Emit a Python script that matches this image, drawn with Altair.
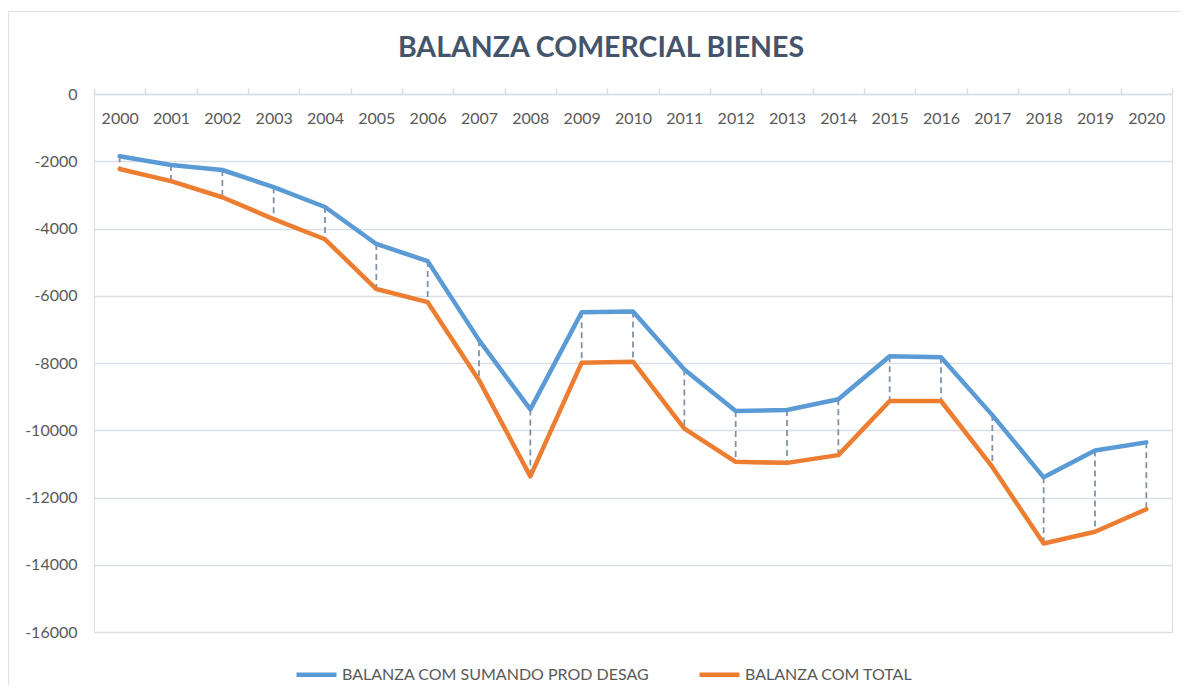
import altair as alt
import pandas as pd

years = [str(y) for y in range(2000, 2021)]
blue_vals = [-1850, -2110, -2260, -2770, -3360, -4460, -4970, -7320, -9380, -6490, -6470,
             -8190, -9430, -9400, -9080, -7800, -7830, -9550, -11400, -10600, -10360]
orange_vals = [-2230, -2590, -3070, -3720, -4320, -5800, -6190, -8510, -11370, -7990, -7960,
               -9950, -10940, -10970, -10740, -9130, -9130, -11090, -13370, -13020, -12350]
series_names = ["BALANZA COM SUMANDO PROD DESAG", "BALANZA COM TOTAL"]
series_colors = ["#5b9bd5", "#ed7d31"]
y_ticks = list(range(-16000, 1, 2000))

df = pd.DataFrame({"year": years, "s1": blue_vals, "s2": orange_vals})

W, H = 1078, 538
FONT = "Lato"
GRID = "#dadfe6"
LABEL = "#595959"

xscale = alt.Scale(type="band", paddingInner=0, paddingOuter=0)
yscale = alt.Scale(domain=[-16000, 0], nice=False, zero=False)

base = alt.Chart(df)

x_enc = alt.X(
    "year:N", scale=xscale, sort=years, title=None,
    axis=alt.Axis(orient="top", tickBand="extent", tickSize=6, tickColor=GRID, tickWidth=1.5,
                  domainColor=GRID, domainWidth=1.5, labelAngle=0, labelBaseline="top",
                  labelPadding=-22, labelFont=FONT, labelFontSize=16, labelColor=LABEL,
                  grid=False),
)

rules = base.mark_rule(strokeDash=[6, 4], strokeWidth=1.8, color="#8193ab").encode(
    x=x_enc,
    y=alt.Y("s1:Q", scale=yscale, title=None,
            axis=alt.Axis(values=y_ticks, labelExpr="datum.value + ''", ticks=False,
                          domain=False, gridColor=GRID, gridWidth=1.5, labelPadding=17,
                          labelFont=FONT, labelFontSize=16, labelColor=LABEL)),
    y2="s2:Q",
)

lines = base.transform_fold(["s1", "s2"], as_=["key", "value"]).transform_calculate(
    serie=f"datum.key == 's1' ? '{series_names[0]}' : '{series_names[1]}'"
).mark_line(strokeWidth=4.5, strokeJoin="round", strokeCap="round").encode(
    x=alt.X("year:N", scale=xscale, sort=years),
    y=alt.Y("value:Q", scale=yscale),
    color=alt.Color(
        "serie:N",
        scale=alt.Scale(domain=series_names, range=series_colors),
        legend=alt.Legend(title=None, orient="none", direction="horizontal",
                          legendX=200, legendY=558, symbolType="stroke", symbolSize=1600,
                          symbolStrokeWidth=4.5, labelOffset=3, columnPadding=40,
                          labelLimit=0, labelFont=FONT, labelFontSize=16, labelColor=LABEL),
    ),
)

border = alt.Chart(pd.DataFrame({"a": [0]})).mark_rect(
    fillOpacity=0, stroke="#dde3ea", strokeWidth=1.2, clip=False
).encode(
    x=alt.value(-85.5), y=alt.value(-82.5), x2=alt.value(W + 40), y2=alt.value(H + 90)
)

chart = alt.layer(border, rules, lines).properties(
    width=W, height=H,
    title=alt.TitleParams("BALANZA COMERCIAL BIENES", font=FONT, fontSize=28.5, fontWeight="bold",
                          color="#44546a", anchor="middle", frame="group", baseline="bottom",
                          offset=-81, dx=-32),
    autosize=alt.AutoSizeParams(type="none"),
    padding={"left": 86, "top": 86, "right": 9, "bottom": 53},
).configure_view(stroke=None).configure(background="white")

chart.save("out.html", embed_options={"renderer": "svg", "actions": False})
